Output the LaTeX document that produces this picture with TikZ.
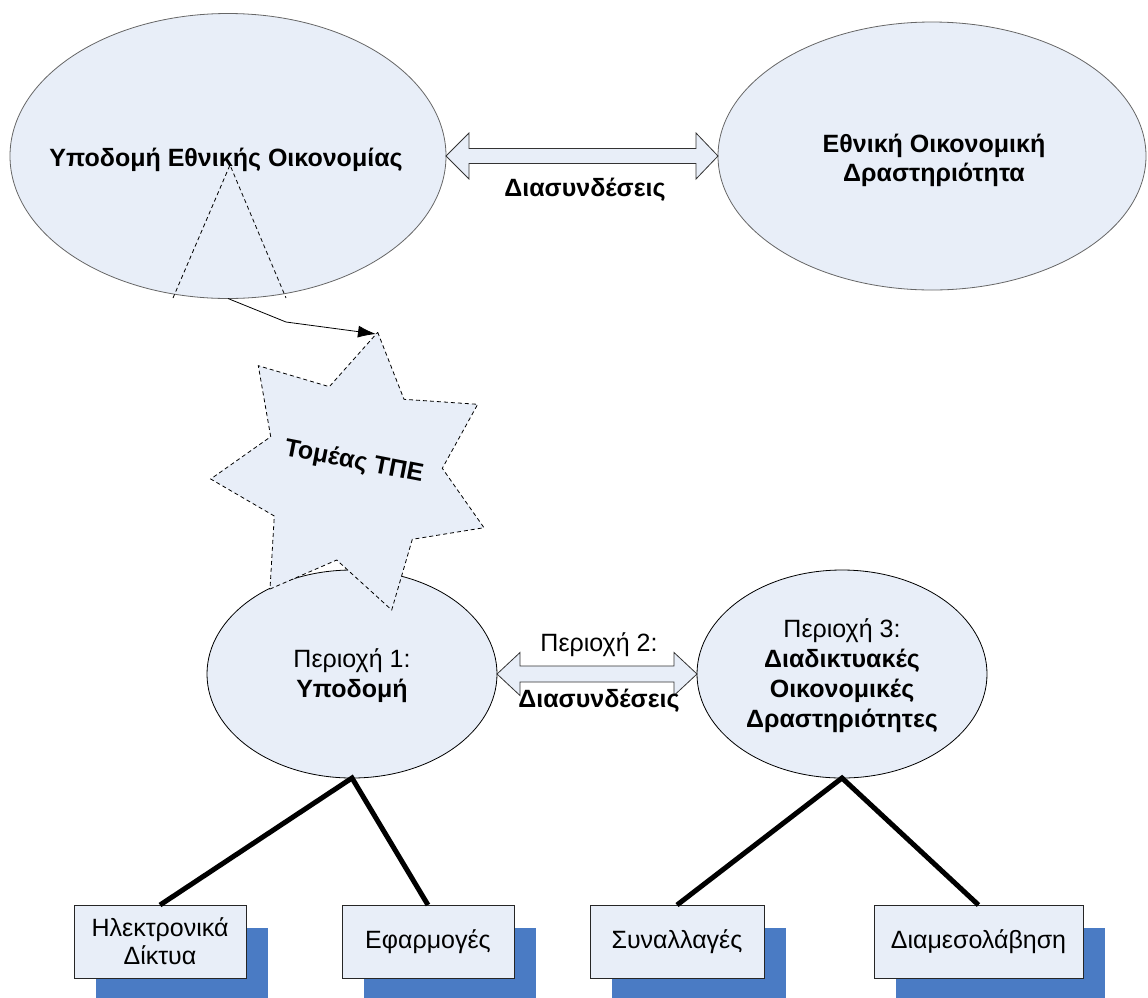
\documentclass[tikz,border=0pt]{standalone}
\usepackage{fontspec}
\setmainfont{Liberation Sans}
\usetikzlibrary{arrows.meta,shapes.geometric,calc,shadows}
\definecolor{lightfill}{HTML}{E8EEF8}
\definecolor{shadowblue}{HTML}{4A7BC4}
\begin{document}
\begin{tikzpicture}[x=1pt,y=-1pt,
  bigell/.style={ellipse,draw=black!60,line width=0.8pt,fill=lightfill,inner sep=0pt,outer sep=0pt},
  smallell/.style={ellipse,draw=black,line width=0.8pt,fill=lightfill,inner sep=0pt,outer sep=0pt,minimum width=290pt,minimum height=208pt},
  txt/.style={font=\fontsize{25}{30}\selectfont,inner sep=0pt,anchor=base},
  btxt/.style={txt,font=\fontsize{25}{30}\selectfont\bfseries},
  dblarrow/.style={draw=black!80,line width=0.8pt,fill=lightfill},
  dashline/.style={draw=black,line width=0.8pt,dash pattern=on 4pt off 3pt},
  starsty/.style={fill=lightfill,dashline},
  thickline/.style={draw=black,line width=5pt},
  boxsty/.style={rectangle,draw=black!85,line width=0.9pt,fill=lightfill,inner sep=0pt,outer sep=0pt,
     minimum height=73pt,align=center,font=\fontsize{25}{28}\selectfont,
     drop shadow={shadow xshift=22pt,shadow yshift=-23pt,fill=shadowblue,opacity=1,draw=none}}
]
\useasboundingbox (0,0) rectangle (1148,997);
\clip (0,0) rectangle (1148,997);

% top ellipses
\node[bigell,minimum width=436pt,minimum height=285pt] (nat) at (228,156) {};
\node[bigell,minimum width=428pt,minimum height=268pt] (eco) at (932,156) {};
\node[btxt] (natt) at (226,166) {Υποδομή Εθνικής Οικονομίας};
\node[btxt] (ecot1) at (934,152) {Εθνική Οικονομική};
\node[btxt] (ecot2) at (934,181) {Δραστηριότητα};

% dashed triangle in top-left ellipse
\coordinate (triL) at (173,298);
\coordinate (triA) at (230,165);
\coordinate (triR) at (286,298);
\draw[dashline] (triL) -- (triA) -- (triR);

% top double arrow
\draw[dblarrow] (nat.east) -- ++(23,-23) -- ++(0,15.5) -- ($(eco.west)+(-22,-7.5)$) -- ++(0,-15.5)
  -- (eco.west) -- ++(-22,23) -- ++(0,-15.5) -- ($(nat.east)+(23,7.5)$) -- ++(0,15.5) -- cycle;
\node[btxt] (lab1) at (585,196) {Διασυνδέσεις};

% bottom ellipses
\node[smallell] (p1) at (352,674) {};
\node[smallell] (p3) at (842,674) {};
\node[txt] (p1a) at (352,667) {Περιοχή 1:};
\node[btxt] (p1b) at (352,697) {Υποδομή};
\node[txt] (p3a) at (842,637) {Περιοχή 3:};
\node[btxt] (p3b) at (842,667) {Διαδικτυακές};
\node[btxt] (p3c) at (842,697) {Οικονομικές};
\node[btxt] (p3d) at (842,727) {Δραστηριότητες};

% star
\draw[starsty] (377.7,332.3) -- (404,399.3) -- (477.7,404.3) -- (442.3,468.3) -- (484,527.7)
  -- (412.3,539.3) -- (391.7,610) -- (336.7,560) -- (270,589) -- (274.3,516) -- (210.7,479)
  -- (270.7,436.7) -- (258.3,365.7) -- (329.3,386.7) -- cycle;
\coordinate (startop) at (376,334);
\node[btxt,anchor=center,rotate=-11] (start) at (354,462) {Τομέας ΤΠΕ};

% arrow from national infrastructure to star
\coordinate (bend) at (286,322);
\draw[line width=0.8pt,-{Latex[length=18pt,width=12pt]}] (nat.south) -- (bend) -- (startop);

% middle double arrow
\draw[dblarrow] (p1.east) -- ++(23,-21.5) -- ++(0,13.5) -- ($(p3.west)+(-23,-8)$) -- ++(0,-13.5)
  -- (p3.west) -- ++(-23,21.5) -- ++(0,-13.5) -- ($(p1.east)+(23,8)$) -- ++(0,13.5) -- cycle;
\node[txt] (lab2a) at (599,651) {Περιοχή 2:};
\node[btxt] (lab2b) at (599,707) {Διασυνδέσεις};

% boxes
\node[boxsty,minimum width=172pt] (b1) at (160,941.5) {Ηλεκτρονικά\\Δίκτυα};
\node[boxsty,minimum width=172pt] (b2) at (428,941.5) {Εφαρμογές};
\node[boxsty,minimum width=174pt] (b3) at (677,941.5) {Συναλλαγές};
\node[boxsty,minimum width=209pt] (b4) at (978.5,941.5) {Διαμεσολάβηση};

% tree lines
\draw[thickline] (b1.north) -- (p1.south) -- (b2.north);
\draw[thickline] (b3.north) -- (p3.south) -- (b4.north);
\end{tikzpicture}
\end{document}
